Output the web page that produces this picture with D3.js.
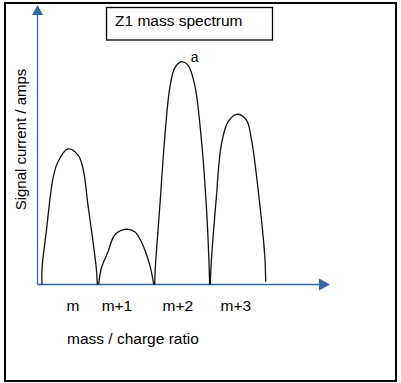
<!DOCTYPE html>
<html>
<head>
<meta charset="utf-8">
<script src="https://cdn.jsdelivr.net/npm/d3@7"></script>
<style>
  html, body { margin: 0; padding: 0; background: #fff; }
  svg { display: block; }
  text { font-family: "Liberation Sans", Arial, sans-serif; fill: #000; }
</style>
</head>
<body>
<div id="chart"></div>
<script>
// ---- data ----
const chartTitle = "Z1 mass spectrum";
const xAxisTitle = "mass / charge ratio";
const yAxisTitle = "Signal current / amps";
const tickLabels = ["m", "m+1", "m+2", "m+3"];
const tickValues = [0.09, 0.87, 1.95, 2.98];
const peakLabel = "a";
const peakLabelAt = [2.18, 79.5];

// hand-drawn peak outlines: [m/z offset, signal]
const peakM = [[-0.46,0],[-0.46,5.8],[-0.384,18.9],[-0.265,38.0],[-0.176,43.9],[0.0,48.5],[0.179,46.3],[0.267,41.6],[0.356,28.4],[0.445,15.3],[0.503,5.8],[0.521,0]];
const peakM1 = [[0.546,0],[0.592,5.8],[0.711,11.7],[0.830,17.7],[1.007,19.7],[1.185,18.9],[1.302,15.3],[1.451,7.0],[1.522,0]];
const peakM2 = [[1.540,0],[1.550,5.8],[1.628,27.3],[1.717,52.3],[1.806,70.2],[1.894,77.4],[2.011,79.7],[2.130,78.5],[2.249,71.4],[2.366,52.3],[2.455,28.4],[2.498,10.6],[2.515,0]];
const peakM3 = [[2.526,0],[2.544,8.2],[2.632,30.8],[2.721,49.9],[2.840,58.2],[3.000,60.9],[3.165,58.9],[3.253,52.3],[3.372,34.4],[3.491,10.6],[3.509,1.0]];
const peaks = [peakM, peakM1, peakM2, peakM3];

const xDomain = [-0.54, 4.65];
const yDomain = [0, 100];

// ---- layout ----
const W = 401, H = 383;
const axisColor = "#3465a4";
const x = d3.scaleLinear().domain(xDomain).range([37.5, 330]);
const y = d3.scaleLinear().domain(yDomain).range([284.5, 5]);

const svg = d3.select("#chart").append("svg").attr("width", W).attr("height", H);

// outer frame
svg.append("rect").attr("x", 5).attr("y", 3).attr("width", 391).attr("height", 378)
  .attr("fill", "none").attr("stroke", "#000").attr("stroke-width", 2);

// title box
svg.append("rect").attr("x", 106.5).attr("y", 7.5).attr("width", 166).attr("height", 32.5)
  .attr("fill", "none").attr("stroke", "#000").attr("stroke-width", 1.3);
svg.append("text").attr("x", 115).attr("y", 25.5).attr("font-size", 15.5).text(chartTitle);

// axes
const x0 = x(xDomain[0]), x1 = x(xDomain[1]);
const y0 = y(yDomain[0]), y1 = y(yDomain[1]);
svg.append("line").attr("x1", x0).attr("y1", y0).attr("x2", x1 - 10).attr("y2", y0)
  .attr("stroke", axisColor).attr("stroke-width", 1.3);
svg.append("path").attr("d", `M${x1},${y0} L${x1 - 11},${y0 - 6} L${x1 - 11},${y0 + 6} Z`).attr("fill", axisColor);
svg.append("line").attr("x1", x0).attr("y1", y0).attr("x2", x0).attr("y2", y1 + 10)
  .attr("stroke", axisColor).attr("stroke-width", 1.3);
svg.append("path").attr("d", `M${x0},${y1} L${x0 - 5.5},${y1 + 10} L${x0 + 5.5},${y1 + 10} Z`).attr("fill", axisColor);

// peaks
const line = d3.line().x(d => x(d[0])).y(d => y(d[1])).curve(d3.curveCatmullRom.alpha(0.5));
svg.selectAll("path.peak").data(peaks).join("path").attr("class", "peak")
  .attr("d", line).attr("fill", "none").attr("stroke", "#111").attr("stroke-width", 1.3);

// peak label
svg.append("text").attr("x", x(peakLabelAt[0])).attr("y", y(peakLabelAt[1]) + 0).attr("font-size", 14).text(peakLabel);

// tick labels
svg.selectAll("text.tick").data(tickLabels).join("text").attr("class", "tick")
  .attr("x", (d, i) => x(tickValues[i])).attr("y", 311)
  .attr("text-anchor", "middle").attr("font-size", 15.5).text(d => d);

// axis titles
svg.append("text").attr("x", 67).attr("y", 344).attr("font-size", 15.5).text(xAxisTitle);
svg.append("text").attr("transform", "translate(26,139.5) rotate(-90)")
  .attr("text-anchor", "middle").attr("font-size", 15).text(yAxisTitle);
</script>
</body>
</html>
